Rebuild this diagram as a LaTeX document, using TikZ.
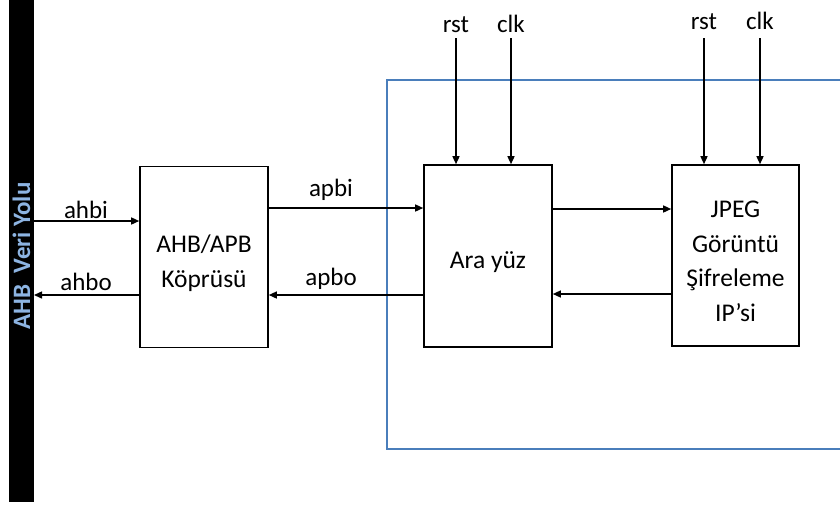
\documentclass[tikz,border=0pt]{standalone}
\usepackage{fontspec}
\setmainfont{Carlito}
\usetikzlibrary{arrows.meta}
\definecolor{busblue}{HTML}{8DB4E2}
\definecolor{frameblue}{HTML}{4A7EBB}
\begin{document}
\begin{tikzpicture}[x=1pt,y=-1pt,
  blk/.style={draw=black,line width=1.6pt,fill=white,inner sep=0pt},
  blktxt/.style={align=center,inner sep=0pt,yshift=-6pt,font=\fontsize{25.5}{34.5}\selectfont},
  sig/.style={line width=1.4pt,-{Triangle[length=8pt,width=7pt]}},
  lbl/.style={font=\fontsize{25}{30}\selectfont,inner sep=0pt}]
\useasboundingbox (0,0) rectangle (840,515);
\fill[white] (0,0) rectangle (840,515);
% bus bar
\fill[black] (9,0) rectangle (34,502);
\node[rotate=90,text=busblue,font=\fontsize{25}{29}\selectfont\bfseries] (bus) at (21.5,256) {AHB\ \ Veri Yolu};
\coordinate (busR1) at (34,221);
\coordinate (busR2) at (34,295);
% blue frame
\draw[frameblue,line width=2pt] (844,80) -- (387,80) -- (387,449) -- (844,449);
% blocks
\node[blk,minimum width=128pt,minimum height=181pt,label={[blktxt]center:AHB/APB\\Köprüsü}] (br) at (204,257) {};
\node[blk,minimum width=128pt,minimum height=182pt,label={[blktxt]center:Ara yüz}] (ara) at (488,256) {};
\node[blk,minimum width=127pt,minimum height=181pt,label={[blktxt]center:JPEG\\Görüntü\\Şifreleme\\IP’si}] (jpeg) at (735.5,255.5) {};
% bus connections
\draw[sig] (busR1) -- (busR1 -| br.west);
\draw[sig] (busR2 -| br.west) -- (busR2);
\node[lbl] (ahbi) at (86,210) {ahbi};
\node[lbl] (ahbo) at (86,282) {ahbo};
% apb
\coordinate (apbiY) at (0,208);
\coordinate (apboY) at (0,295);
\draw[sig] (apbiY -| br.east) -- (apbiY -| ara.west);
\draw[sig] (apboY -| ara.west) -- (apboY -| br.east);
\node[lbl] (apbi) at (331,190) {apbi};
\node[lbl] (apbo) at (331,279) {apbo};
% ara <-> jpeg
\coordinate (ijY) at (0,209);
\coordinate (jiY) at (0,294);
\draw[sig] (ijY -| ara.east) -- (ijY -| jpeg.west);
\draw[sig] (jiY -| jpeg.west) -- (jiY -| ara.east);
% rst clk
\node[lbl] (rst1) at (456,25) {rst};
\node[lbl] (clk1) at (511,24) {clk};
\node[lbl] (rst2) at (704,22) {rst};
\node[lbl] (clk2) at (760,21) {clk};
\coordinate (t1) at (456,38);
\coordinate (t2) at (511,38);
\coordinate (t3) at (704,38);
\coordinate (t4) at (760,38);
\draw[sig] (t1) -- (t1 |- ara.north);
\draw[sig] (t2) -- (t2 |- ara.north);
\draw[sig] (t3) -- (t3 |- jpeg.north);
\draw[sig] (t4) -- (t4 |- jpeg.north);
\end{tikzpicture}
\end{document}
